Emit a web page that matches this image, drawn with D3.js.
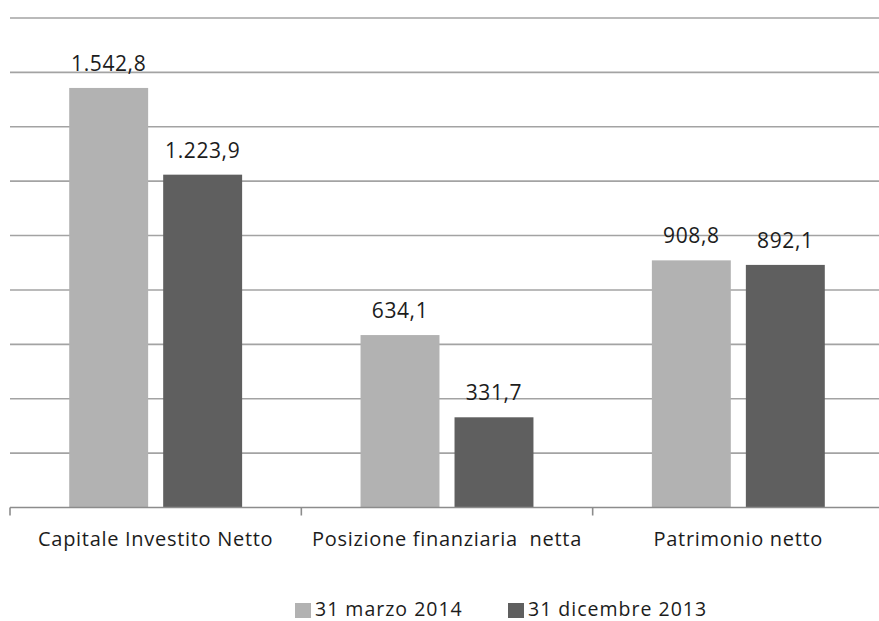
<!DOCTYPE html>
<html>
<head>
<meta charset="utf-8">
<script src="https://cdn.jsdelivr.net/npm/d3@7/dist/d3.min.js"></script>
<style>
  html, body { margin: 0; padding: 0; background: #fff; }
  svg text { font-family: "Open Sans", sans-serif; fill: #1c1c1c; }
</style>
</head>
<body>
<svg id="chart" width="879" height="621"></svg>
<script>
// Data (milioni di euro)
const categories = ["Capitale Investito Netto", "Posizione finanziaria  netta", "Patrimonio netto"];
const seriesNames = ["31 marzo 2014", "31 dicembre 2013"];
const marzo2014 = [1542.8, 634.1, 908.8];
const dicembre2013 = [1223.9, 331.7, 892.1];
const gridTicks = [0, 200, 400, 600, 800, 1000, 1200, 1400, 1600, 1800];
const colors = ["#b2b2b2", "#5f5f5f"];

const seriesValues = [marzo2014, dicembre2013];
const rows = categories.map((c, i) => ({
  category: c,
  values: seriesNames.map((s, j) => ({ series: s, value: seriesValues[j][i], idx: j }))
}));

const svg = d3.select("#chart");
const plotLeft = 10, plotRight = 884, plotTop = 18, plotBottom = 507.5;

const x0 = d3.scaleBand().domain(categories).range([plotLeft, plotRight]).paddingInner(0).paddingOuter(0);
const x1 = d3.scaleBand().domain(seriesNames).range([0, x0.bandwidth()])
  .paddingInner(0.16).paddingOuter(0.63);
const y = d3.scaleLinear().domain([0, 1800]).range([plotBottom, plotTop]);

const itFormat = d3.formatLocale({ decimal: ",", thousands: ".", grouping: [3], currency: ["€", ""] }).format(",.1f");

// Horizontal gridlines
svg.append("g").selectAll("line")
  .data(gridTicks.filter(d => d > 0))
  .join("line")
  .attr("x1", plotLeft).attr("x2", 879)
  .attr("y1", d => y(d)).attr("y2", d => y(d))
  .attr("stroke", "#a3a3a3").attr("stroke-width", 1.6);

// Bars
const groups = svg.append("g").selectAll("g")
  .data(rows).join("g")
  .attr("transform", d => `translate(${x0(d.category)},0)`);

groups.selectAll("rect")
  .data(d => d.values).join("rect")
  .attr("x", d => x1(d.series))
  .attr("width", x1.bandwidth())
  .attr("y", d => y(d.value))
  .attr("height", d => y(0) - y(d.value))
  .attr("fill", d => colors[d.idx]);

// Value labels
groups.selectAll("text.val")
  .data(d => d.values).join("text")
  .attr("class", "val")
  .attr("x", d => x1(d.series) + x1.bandwidth() / 2)
  .attr("y", d => y(d.value) - 17)
  .attr("text-anchor", "middle")
  .attr("font-size", 21)
  .attr("letter-spacing", 0.6)
  .text(d => itFormat(d.value));

// Category axis
const xAxis = svg.append("g");
xAxis.append("line")
  .attr("x1", plotLeft).attr("x2", 879)
  .attr("y1", y(0)).attr("y2", y(0))
  .attr("stroke", "#8c8c8c").attr("stroke-width", 1.6);
const boundaries = categories.map(c => x0(c)).concat([x0(categories[categories.length - 1]) + x0.bandwidth()]);
xAxis.selectAll("line.tick")
  .data(boundaries).join("line")
  .attr("class", "tick")
  .attr("x1", d => d).attr("x2", d => d)
  .attr("y1", y(0)).attr("y2", y(0) + 8)
  .attr("stroke", "#8c8c8c").attr("stroke-width", 1.6);
xAxis.selectAll("text")
  .data(categories).join("text")
  .attr("x", d => x0(d) + x0.bandwidth() / 2)
  .attr("y", 546)
  .attr("text-anchor", "middle")
  .attr("font-size", 20)
  .attr("letter-spacing", 0.7)
  .attr("xml:space", "preserve")
  .text(d => d);

// Legend
const legendX = [295, 508];
const legend = svg.append("g").selectAll("g")
  .data(seriesNames).join("g")
  .attr("transform", (d, i) => `translate(${legendX[i]},0)`);
legend.append("rect")
  .attr("x", 0).attr("y", 603).attr("width", 16).attr("height", 15)
  .attr("fill", (d, i) => colors[i]);
legend.append("text")
  .attr("x", 20).attr("y", 616)
  .attr("font-size", 19.5)
  .attr("letter-spacing", 1)
  .text(d => d);
</script>
</body>
</html>
